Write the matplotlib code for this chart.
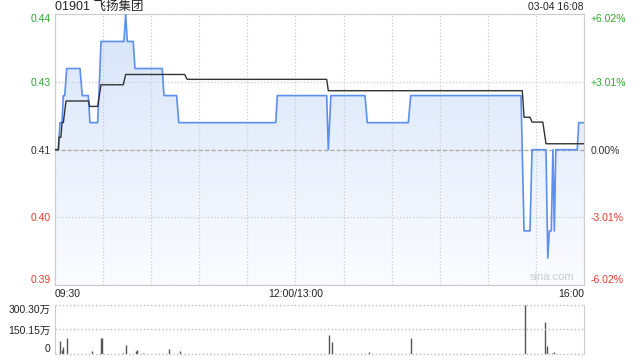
import numpy as np
import matplotlib
matplotlib.use("Agg")
import matplotlib.pyplot as plt
from matplotlib.colors import LinearSegmentedColormap

plt.rcParams['font.family'] = ['Liberation Sans', 'Noto Sans CJK SC', 'DejaVu Sans']

# minutes since 09:30 (lunch break removed, 330 min session)
price_t = [0, 2.1, 3.1, 4.4, 5.2, 6.1, 7.3, 15.6, 17.0, 20.8, 21.8, 26.6, 27.4, 28.7,
           43.0, 44.1, 45.1, 48.8, 49.9, 66.9, 68.0, 75.9, 77.2, 137.7, 138.7, 169.5,
           170.5, 172.1, 193.4, 194.8, 220.4, 221.9, 290.7, 292.6, 296.3, 297.6, 306.3,
           307.4, 308.4, 309.6, 310.6, 311.5, 312.4, 325.8, 326.7, 330]
price = [0.415, 0.415, 0.42, 0.42, 0.425, 0.425, 0.43, 0.43, 0.425, 0.425, 0.42, 0.42,
         0.425, 0.435, 0.435, 0.44, 0.435, 0.435, 0.43, 0.43, 0.425, 0.425, 0.42, 0.42,
         0.425, 0.425, 0.415, 0.425, 0.425, 0.42, 0.42, 0.425, 0.425, 0.40, 0.40, 0.415,
         0.415, 0.395, 0.40, 0.40, 0.415, 0.40, 0.415, 0.415, 0.42, 0.42]

avg_t = [0, 2.1, 2.5, 3.7, 4.4, 5.2, 6.9, 21.0, 21.6, 26.6, 28.7, 42.6, 44.1, 80.9,
         82.4, 169.5, 170.5, 291.5, 292.6, 296.3, 297.6, 304.3, 306.3, 330]
avg = [0.415, 0.415, 0.4173, 0.4173, 0.42, 0.42, 0.424, 0.424, 0.423, 0.423, 0.427,
       0.427, 0.4289, 0.4289, 0.428, 0.428, 0.4259, 0.4259, 0.421, 0.421, 0.4201,
       0.4201, 0.4161, 0.4161]

# volume in 万 shares
vol_t = [3.3, 4.4, 5.3, 7.8, 22.8, 28.5, 29.4, 42.3, 44.6, 50.5, 51.3, 55.0, 71.2, 78.0,
         171.1, 172.6, 195.7, 222.3, 293.4, 305.9, 306.9, 310.0, 311.1]
vol = [80, 25, 44, 98, 20, 98, 98, 8, 56, 20, 24, 6, 32, 18,
       116, 74, 10, 98, 300, 196, 46, 8, 15]

prev_close = 0.415
left_ticks = [0.39, 0.4025, 0.415, 0.4275, 0.44]
left_labels = ['0.39', '0.40', '0.41', '0.43', '0.44']
right_labels = ['-6.02%', '-3.01%', '0.00%', '+3.01%', '+6.02%']
x_ticks = list(range(0, 331, 30))
x_labels = ['09:30', '', '', '', '', '12:00/13:00', '', '', '', '', '', '16:00']
vol_ticks = [0, 150.15, 300.30]
vol_labels = ['0', '150.15万', '300.30万']

green = '#2faa2f'
red = '#e8382f'
dark = '#333333'
lab_colors = [red, red, dark, green, green]

fig = plt.figure(figsize=(6.4, 3.6), dpi=100)
ax = fig.add_axes([0.0859, 0.2083, 0.8266, 0.7517])
axv = fig.add_axes([0.0859, 0.0167, 0.8266, 0.1361])

# price panel
poly = ax.fill_between(price_t, price, 0.39, color='none', lw=0)
grad = np.linspace(0, 1, 256).reshape(-1, 1)
cmap = LinearSegmentedColormap.from_list('g', ['#fbfcff', '#d6e4fa'])
im = ax.imshow(grad, extent=[0, 330, 0.39, 0.44], origin='lower', aspect='auto',
               cmap=cmap, zorder=1)
im.set_clip_path(poly.get_paths()[0], transform=ax.transData)
ax.plot(price_t, price, color='#5b8ff0', lw=1.2, zorder=3)
ax.plot(avg_t, avg, color='#333333', lw=1.0, zorder=4)

ax.set_xlim(0, 330)
ax.set_ylim(0.39, 0.44)
ax.set_xticks(x_ticks)
ax.set_xticklabels(x_labels, fontsize=7.5, color='#222222')
ax.set_yticks(left_ticks)
ax.set_yticklabels(left_labels, fontsize=7.5)
ax.tick_params(length=0, pad=3)
for lab, c in zip(ax.get_yticklabels(), lab_colors):
    lab.set_color(c)
ax.get_yticklabels()[0].set_va('bottom')
ax.get_yticklabels()[-1].set_va('top')
ax.get_xticklabels()[0].set_ha('left')
ax.get_xticklabels()[-1].set_ha('right')
ax.grid(True, color='#cccccc', ls=':', lw=0.9)
ax.axhline(prev_close, color='#aaaaaa', ls=(0, (3, 2)), lw=0.9, zorder=2)
for s in ax.spines.values():
    s.set_color('#cccccc')

ax2 = ax.twinx()
ax2.set_ylim(0.39, 0.44)
ax2.set_yticks(left_ticks)
ax2.set_yticklabels(right_labels, fontsize=7.5)
ax2.tick_params(length=0, pad=5)
for lab, c in zip(ax2.get_yticklabels(), lab_colors):
    lab.set_color(c)
ax2.get_yticklabels()[0].set_va('bottom')
ax2.get_yticklabels()[-1].set_va('top')
for s in ax2.spines.values():
    s.set_visible(False)

fig.text(0.0859, 0.98, '01901 飞扬集团', fontsize=9, color='#222222', va='center', ha='left')
fig.text(0.9125, 0.98, '03-04 16:08', fontsize=7.5, color='#222222', va='center', ha='right')
ax.text(0.94, 0.012, 'sina.com', transform=ax.transAxes, fontsize=8, color='#cccccc',
        ha='center', va='bottom')

# volume panel
axv.vlines(vol_t, 0, vol, color='#555555', lw=1)
axv.set_xlim(0, 330)
axv.set_ylim(0, 300.30)
axv.set_xticks([])
axv.set_yticks(vol_ticks)
axv.set_yticklabels(vol_labels, fontsize=7.5, color='#222222')
axv.get_yticklabels()[0].set_va('bottom')
axv.get_yticklabels()[-1].set_va('top')
axv.tick_params(length=0, pad=3)
for y in vol_ticks:
    axv.axhline(y, color='#bbbbbb', ls=':', lw=1.0, clip_on=False)
axv.spines['top'].set_visible(False)
axv.spines['bottom'].set_visible(False)
axv.spines['left'].set_color('#cccccc')
axv.spines['right'].set_color('#cccccc')

fig.savefig('out.png', dpi=100)
